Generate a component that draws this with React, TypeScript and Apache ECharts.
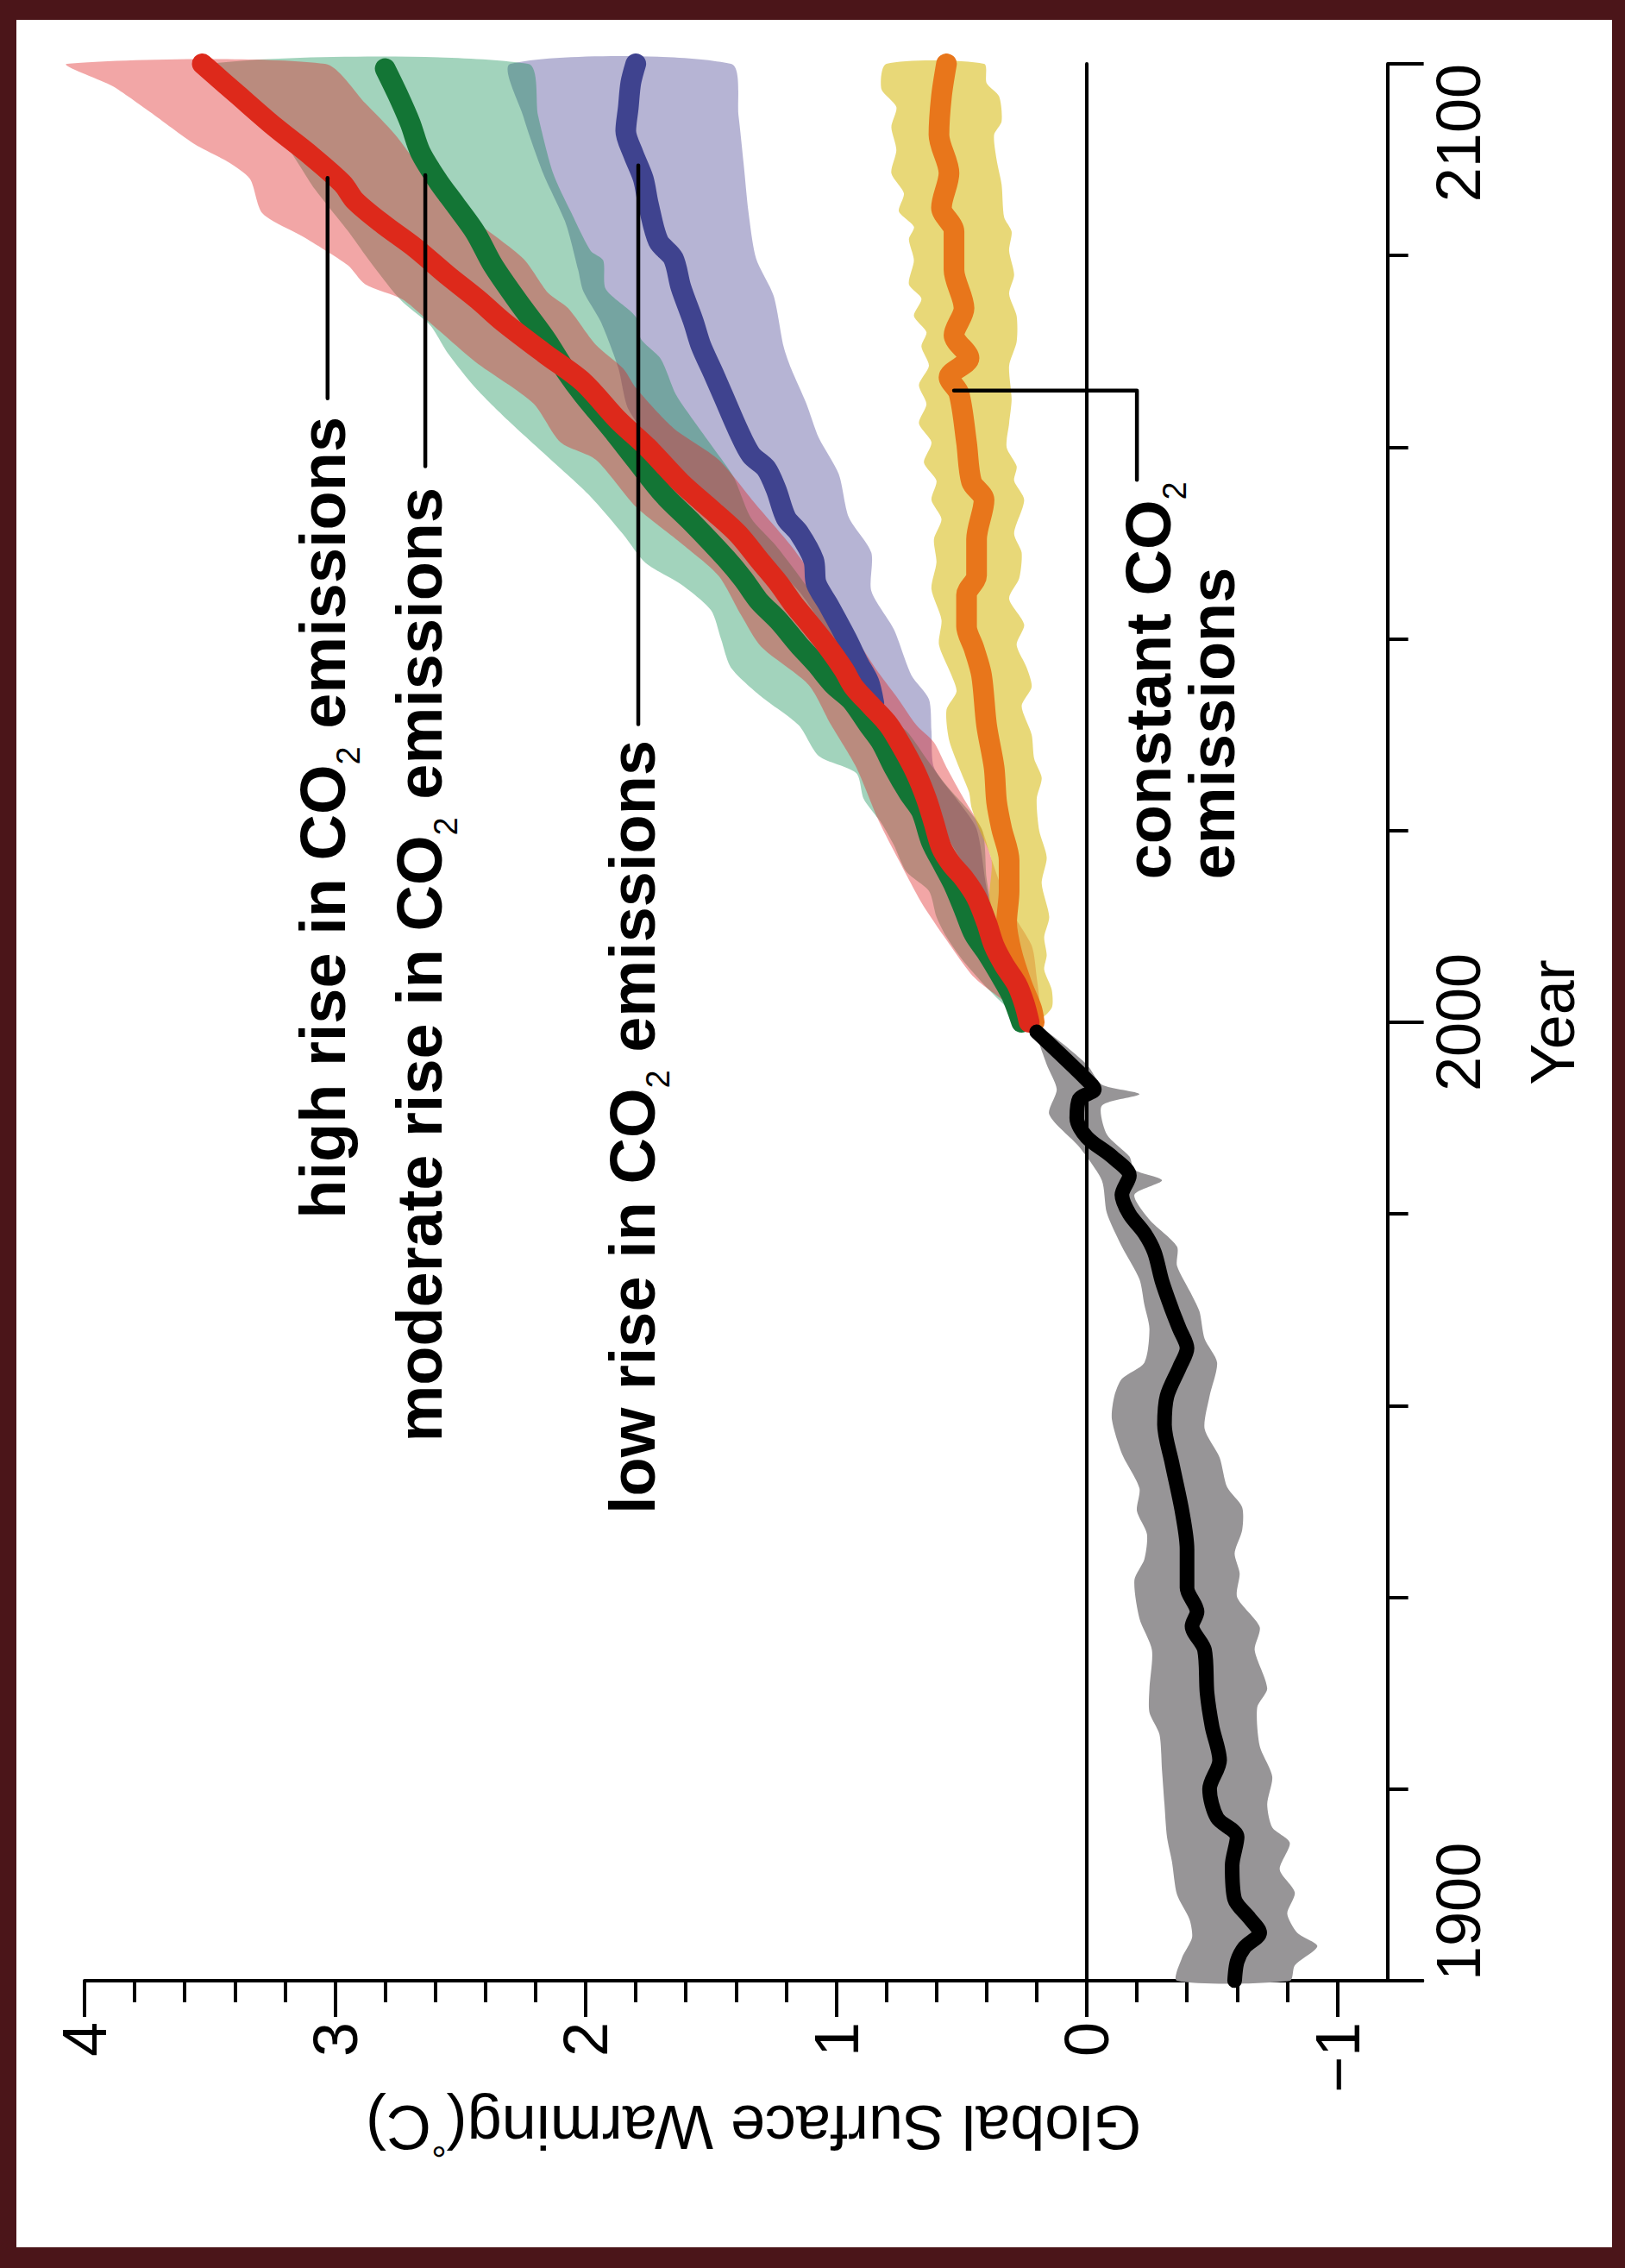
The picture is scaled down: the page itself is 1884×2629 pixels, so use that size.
import React, { useEffect, useRef } from 'react';
import * as echarts from 'echarts';

type Pt = [number, number]; // [year, warming in °C]

const FONT = "'Liberation Sans', Arial, Helvetica, sans-serif";

// ---------- historical (1900-2000) ----------
const HIST_LINE: Pt[] = [
  [1900, -0.59], [1902, -0.6], [1903.5, -0.63], [1905, -0.69], [1906.5, -0.65], [1908.5, -0.59],
  [1912, -0.58], [1915, -0.6], [1917, -0.52], [1920, -0.49], [1923, -0.53], [1926.5, -0.5],
  [1930, -0.48], [1934.5, -0.47], [1937, -0.42], [1938.5, -0.44], [1941, -0.4], [1945, -0.4],
  [1949, -0.38], [1954, -0.34], [1958, -0.31], [1961, -0.32], [1964, -0.37], [1966, -0.4],
  [1968, -0.37], [1970, -0.34], [1973, -0.3], [1976, -0.27], [1978, -0.23], [1980, -0.17],
  [1982, -0.14], [1984, -0.17], [1986, -0.1], [1988, 0.0], [1990, 0.04], [1992, 0.03],
  [1993, -0.03], [1994, 0.0], [1999, 0.2],
];
const HIST_BAND_UPPER: Pt[] = [
  [1900, -0.36], [1902.4, -0.38], [1904.5, -0.42], [1906.4, -0.41], [1909, -0.36], [1912.4, -0.34],
  [1915, -0.32], [1918.4, -0.31], [1922, -0.3], [1925.7, -0.29], [1928, -0.25], [1930.5, -0.25],
  [1934.5, -0.26], [1937.8, -0.21], [1941.8, -0.19], [1944, -0.23], [1946.6, -0.24], [1949, -0.2],
  [1951.4, -0.21], [1955, -0.14], [1958.6, -0.1], [1961, -0.11], [1962.8, -0.14], [1964.5, -0.23],
  [1968, -0.25], [1970.5, -0.23], [1973.2, -0.21], [1976.6, -0.14], [1980.1, -0.08], [1983.5, -0.06],
  [1987, 0.03], [1990.4, 0.15], [1993, 0.12], [1995.6, 0.16], [1999, 0.2],
];
const HIST_BAND_LOWER: Pt[] = [
  [1900, -0.81], [1901.6, -0.83], [1903.6, -0.92], [1905, -0.84], [1907, -0.8], [1909.2, -0.83],
  [1911.6, -0.77], [1914.4, -0.81], [1916, -0.74], [1918.4, -0.72], [1921.3, -0.74], [1924.5, -0.69],
  [1928.5, -0.68], [1930.5, -0.72], [1934.5, -0.67], [1936.9, -0.69], [1940, -0.6], [1942.5, -0.61],
  [1944.6, -0.59], [1947, -0.62], [1949.4, -0.62], [1951.5, -0.56], [1954.6, -0.53], [1957.6, -0.47],
  [1961, -0.49], [1964.5, -0.52], [1967, -0.47], [1969.8, -0.45], [1971.5, -0.42], [1974.6, -0.36],
  [1976.6, -0.36], [1979.4, -0.25], [1982, -0.19], [1983.5, -0.3], [1984.6, -0.19], [1986, -0.17],
  [1988.3, -0.08], [1991.3, -0.06], [1992.5, -0.21], [1993.5, -0.06], [1995.6, 0.0], [1999, 0.16],
];

// ---------- high rise in CO2 emissions (red) ----------
const HIGH_LINE: Pt[] = [
  [2000, 0.23], [2002, 0.25], [2004, 0.28], [2006, 0.33], [2008, 0.37], [2010.4, 0.4], [2013, 0.44],
  [2015, 0.49], [2016.5, 0.54], [2018.2, 0.58], [2020.8, 0.61], [2023.3, 0.64], [2025.9, 0.68],
  [2028.4, 0.73], [2031, 0.79], [2033, 0.86], [2035, 0.93], [2036.8, 0.97], [2039.4, 1.04],
  [2041.7, 1.11], [2043.6, 1.17], [2045.8, 1.23], [2048, 1.3], [2050.9, 1.39], [2053.3, 1.49],
  [2056.3, 1.62], [2059.9, 1.75], [2062.8, 1.87], [2066.8, 2.01], [2069.7, 2.16], [2073.1, 2.33],
  [2075.4, 2.43], [2077.9, 2.55], [2080.8, 2.68], [2083.3, 2.81], [2085.7, 2.92], [2087.5, 2.97],
  [2090.5, 3.1], [2093.4, 3.24], [2096.8, 3.39], [2100, 3.53],
];
const HIGH_BAND_UPPER: Pt[] = [
  [2000, 0.24], [2001.8, 0.31], [2004.7, 0.45], [2008.6, 0.56], [2012.5, 0.66], [2016.9, 0.75],
  [2021, 0.83], [2026.6, 0.92], [2031, 1.02], [2035.2, 1.11], [2039.2, 1.3], [2042.5, 1.38],
  [2046.6, 1.47], [2050, 1.62], [2053.8, 1.8], [2058.7, 1.96], [2060.5, 2.1], [2064.6, 2.21],
  [2068.9, 2.44], [2072.5, 2.6], [2075.4, 2.73], [2077, 2.88], [2079, 2.95], [2082, 3.13],
  [2084.4, 3.29], [2088, 3.34], [2089.8, 3.43], [2091.6, 3.56], [2095, 3.74], [2097.7, 3.89],
  [2100, 4.07],
];
const HIGH_BAND_LOWER: Pt[] = [
  [2000, 0.21], [2002, 0.19], [2004.7, 0.2], [2008, 0.22], [2012, 0.31], [2017, 0.38], [2020.2, 0.42],
  [2023.3, 0.49], [2026.6, 0.56], [2029.2, 0.61], [2031, 0.68], [2034, 0.76], [2036.8, 0.84],
  [2040, 0.92], [2045, 1.05], [2049.7, 1.18], [2054, 1.32], [2058.7, 1.47], [2062, 1.65],
  [2066.2, 1.8], [2068.2, 1.85], [2070.7, 1.96], [2074.5, 2.07], [2076.1, 2.15], [2079.7, 2.25],
  [2084.2, 2.47], [2087.8, 2.62], [2092.6, 2.76], [2095.9, 2.88], [2100, 3.04],
];

// ---------- moderate rise in CO2 emissions (green) ----------
const MOD_LINE: Pt[] = [
  [2000, 0.26], [2002.8, 0.3], [2004.7, 0.34], [2007.3, 0.4], [2009.2, 0.45], [2011.8, 0.49],
  [2014.3, 0.53], [2016.3, 0.57], [2018.8, 0.62], [2022, 0.66], [2023.9, 0.71], [2026.6, 0.77],
  [2029.2, 0.82], [2031, 0.87], [2033.6, 0.94], [2035.2, 1.01], [2037.4, 1.08], [2039.4, 1.15],
  [2041.9, 1.23], [2044, 1.31], [2046.2, 1.37], [2048.4, 1.44], [2052, 1.57], [2055.1, 1.69],
  [2058.7, 1.8], [2061.7, 1.89], [2065.5, 2.01], [2068, 2.08], [2071.3, 2.16], [2075.2, 2.27],
  [2079, 2.37], [2082.4, 2.44], [2085.3, 2.52], [2087.8, 2.59], [2090.8, 2.66], [2093.8, 2.7],
  [2096.8, 2.75], [2099.5, 2.8],
];
const MOD_BAND_UPPER: Pt[] = [
  [2000, 0.26], [2000.8, 0.29], [2003.1, 0.38], [2006.3, 0.49], [2008.9, 0.56], [2011, 0.6],
  [2013.7, 0.63], [2015.7, 0.72], [2018.5, 0.77], [2020.8, 0.82], [2023.3, 0.89], [2026, 0.92],
  [2027.8, 1.07], [2031, 1.15], [2034, 1.3], [2037, 1.42], [2040, 1.46], [2043, 1.5], [2045.7, 1.62],
  [2047.9, 1.76], [2050.9, 1.85], [2055.1, 1.99], [2059.2, 2.16], [2062.8, 2.31], [2066.2, 2.44],
  [2069.8, 2.55], [2072.7, 2.62], [2074.9, 2.72], [2076.3, 2.77], [2079.7, 2.87], [2082.6, 2.95],
  [2086.9, 3.08], [2092, 3.21], [2096, 3.38], [2100, 3.5],
];
const MOD_BAND_LOWER: Pt[] = [
  [2000, 0.24], [2004, 0.3], [2008, 0.35], [2012, 0.38], [2015, 0.4], [2020.2, 0.42], [2024.7, 0.56],
  [2027.5, 0.64], [2030.4, 0.72], [2032.9, 0.84], [2035, 0.88], [2040, 0.98], [2045.2, 1.11],
  [2049.7, 1.24], [2052.6, 1.34], [2056.9, 1.41], [2059.9, 1.49], [2062.8, 1.57], [2065.5, 1.64],
  [2069.2, 1.7], [2071.3, 1.78], [2073.6, 1.8], [2076.5, 1.92], [2079.5, 1.93], [2080.5, 1.98],
  [2084.6, 2.06], [2088.6, 2.13], [2094.6, 2.19], [2100, 2.23],
];

// ---------- low rise in CO2 emissions (blue / purple) ----------
const LOW_LINE: Pt[] = [
  [2033.3, 0.85], [2035.5, 0.87], [2037.4, 0.91], [2040.1, 0.96], [2043.5, 1.03], [2045.8, 1.08],
  [2048.2, 1.09], [2051.1, 1.15], [2052.6, 1.2], [2055.6, 1.24], [2057.8, 1.28], [2059.2, 1.34],
  [2061.7, 1.39], [2065.3, 1.45], [2067.7, 1.49], [2070.6, 1.54], [2073.1, 1.57], [2076.7, 1.62],
  [2079.7, 1.65], [2081.5, 1.71], [2085.4, 1.75], [2088, 1.77], [2090.6, 1.81], [2093, 1.84],
  [2095.4, 1.83], [2098, 1.82], [2100, 1.8],
];
const LOW_BAND_UPPER: Pt[] = [
  [2000, 0.22], [2005, 0.29], [2010, 0.38], [2015, 0.46], [2020, 0.57], [2025, 0.65], [2030, 0.76],
  [2035, 0.9], [2040, 1.02], [2045, 1.15], [2050, 1.34], [2055, 1.56], [2060, 1.72], [2064, 1.83],
  [2068.3, 1.87], [2073.1, 1.94], [2076.3, 2.01], [2078.5, 2.03], [2083.4, 2.08], [2088.6, 2.17],
  [2094.6, 2.25], [2100, 2.3],
];
const LOW_BAND_LOWER: Pt[] = [
  [2000, 0.21], [2005, 0.28], [2010, 0.36], [2014, 0.4], [2020.2, 0.44], [2023.3, 0.52], [2026.6, 0.61],
  [2030.4, 0.62], [2033.7, 0.63], [2036.2, 0.7], [2041, 0.77], [2045, 0.86], [2049, 0.86],
  [2052.7, 0.95], [2057.2, 0.99], [2061, 1.07], [2064.6, 1.12], [2068.2, 1.18], [2070.5, 1.21],
  [2075.8, 1.25], [2079.7, 1.32], [2084.5, 1.35], [2089.7, 1.37], [2094.6, 1.39], [2100, 1.42],
];

// ---------- constant CO2 emissions (orange / yellow) ----------
const CONST_LINE: Pt[] = [
  [2000, 0.21], [2001.4, 0.22], [2004, 0.26], [2007.3, 0.3], [2010.4, 0.32], [2013.7, 0.31],
  [2016.9, 0.31], [2020.2, 0.34], [2023, 0.36], [2026.6, 0.37], [2031, 0.4], [2036.2, 0.42],
  [2039, 0.45], [2041.3, 0.48], [2044.6, 0.48], [2046.6, 0.44], [2050.4, 0.44], [2054.5, 0.41],
  [2056.4, 0.46], [2060.5, 0.48], [2065.6, 0.51], [2067.3, 0.55], [2069.3, 0.47], [2071.7, 0.53],
  [2074.5, 0.49], [2078.5, 0.53], [2082.5, 0.53], [2085, 0.58], [2088.6, 0.55], [2092.6, 0.59],
  [2096.6, 0.58], [2100, 0.56],
];
const CONST_BAND_UPPER: Pt[] = [
  [2000, 0.23], [2003, 0.29], [2006, 0.34], [2010, 0.38], [2013, 0.39], [2016.9, 0.38], [2020.2, 0.43],
  [2022.4, 0.46], [2024, 0.47], [2026.6, 0.51], [2029.5, 0.55], [2032.6, 0.56], [2034.5, 0.52],
  [2036.2, 0.54], [2039.4, 0.59], [2042, 0.58], [2045.2, 0.62], [2048, 0.6], [2050.4, 0.61],
  [2052.5, 0.58], [2054.5, 0.62], [2056.5, 0.6], [2058.4, 0.65], [2060.5, 0.62], [2062.5, 0.67],
  [2064.5, 0.64], [2066.5, 0.67], [2068.5, 0.63], [2070.5, 0.66], [2072, 0.64], [2073.7, 0.69],
  [2075.5, 0.66], [2077, 0.71], [2079.5, 0.69], [2081.7, 0.71], [2083, 0.69], [2084.6, 0.75],
  [2086.5, 0.73], [2088.6, 0.78], [2091, 0.76], [2093.4, 0.78], [2095.5, 0.76], [2097.4, 0.82],
  [2100, 0.8],
];
const CONST_BAND_LOWER: Pt[] = [
  [2000, 0.2], [2001.5, 0.14], [2003.4, 0.14], [2005.5, 0.17], [2007, 0.16], [2008.9, 0.17],
  [2011, 0.15], [2014.5, 0.18], [2017.2, 0.16], [2020, 0.19], [2023.3, 0.2], [2025.5, 0.18],
  [2027.5, 0.21], [2030, 0.22], [2033, 0.26], [2035, 0.22], [2037, 0.24], [2039.4, 0.28],
  [2041.5, 0.25], [2044.2, 0.31], [2046.3, 0.27], [2049, 0.26], [2051, 0.29], [2054.5, 0.25],
  [2056.5, 0.29], [2058, 0.28], [2060, 0.32], [2062.5, 0.31], [2065, 0.3], [2068.5, 0.31],
  [2071, 0.28], [2073.7, 0.28], [2076, 0.31], [2078, 0.29], [2080.5, 0.31], [2082.5, 0.3],
  [2084, 0.33], [2087.4, 0.34], [2090, 0.36], [2092.6, 0.37], [2094, 0.34], [2096.6, 0.35],
  [2098, 0.4], [2100, 0.41],
];

// ---------- axes ----------
const WARMING_MAJOR_TICKS = [4, 3, 2, 1, 0, -1];
const WARMING_MINOR_TICKS = [
  3.8, 3.6, 3.4, 3.2, 2.8, 2.6, 2.4, 2.2, 1.8, 1.6, 1.4, 1.2, 0.8, 0.6, 0.4, 0.2, -0.2, -0.4, -0.6, -0.8,
];
const WARMING_MIN = -1.34;
const WARMING_MAX = 4;
const YEAR_AXIS_AT = -1.2;
const YEAR_MIN = 1900;
const YEAR_MAX = 2100;
const YEAR_STEP = 100;
const YEAR_MINOR_SPLIT = 5;

// ---------- annotations (leader lines + labels, in data units) ----------
const ZERO_LINE: Pt[] = [[1900, 0], [2100, 0]];
const HIGH_LEADER: Pt[] = [[2065.1, 3.03], [2088.1, 3.03]];
const MOD_LEADER: Pt[] = [[2058.0, 2.64], [2088.4, 2.64]];
const LOW_LEADER: Pt[] = [[2031.1, 1.79], [2089.4, 1.79]];
const CONST_LEADER: Pt[] = [[2065.9, 0.53], [2065.9, -0.2], [2056.6, -0.2]];

const LABELS = [
  { text: '{b|high rise in CO}{s|2}{b| emissions}', year: 1979.5, w: 3.177 },
  { text: '{b|moderate rise in CO}{s|2}{b| emissions}', year: 1956.2, w: 2.79 },
  { text: '{b|low rise in CO}{s|2}{b| emissions}', year: 1948.7, w: 1.94 },
  { text: '{b|constant CO}{s|2}\n{b|emissions}', year: 2014.9, w: -0.12 },
];

const COLORS = {
  red: '#dd291b',
  green: '#137535',
  blue: '#3f438f',
  orange: '#e8761b',
  black: '#000000',
  redBand: 'rgba(222,32,32,0.4)',
  greenBand: 'rgba(10,140,80,0.38)',
  purpleBand: 'rgba(72,68,148,0.4)',
  yellowBand: 'rgba(217,190,30,0.6)',
  grayBand: '#979597',
};

const toXY = (pts: Pt[]) => pts.map(([yr, w]) => [w, yr]);

function bandSeries(upper: Pt[], lower: Pt[], fill: string, z: number) {
  const ring = [...upper, ...lower.slice().reverse()];
  return {
    type: 'custom',
    silent: true,
    clip: false,
    z,
    data: [[upper[0][1], upper[0][0]]],
    renderItem: (_p: any, api: any) => ({
      type: 'polygon',
      shape: { points: ring.map(([yr, w]) => api.coord([w, yr])), smooth: 0.25 },
      style: { fill },
    }),
  };
}

function lineSeries(pts: Pt[], color: string, width: number, z: number, smooth: number | boolean = 0.3) {
  return {
    type: 'line',
    data: toXY(pts),
    symbol: 'none',
    smooth,
    silent: true,
    z,
    lineStyle: { color, width, cap: 'round', join: 'round' },
  };
}

export default function App() {
  const ref = useRef<HTMLDivElement>(null);

  useEffect(() => {
    if (!ref.current) return;
    const chart = echarts.init(ref.current, null, { renderer: 'svg' });
    const axisLineStyle = { color: '#000', width: 4 };
    const option: any = {
      animation: false,
      backgroundColor: 'transparent',
      textStyle: { fontFamily: FONT },
      grid: { left: 98, right: 234.7, top: 74, bottom: 333, containLabel: false, outerBoundsMode: 'none' },
      xAxis: [
        {
          type: 'value', inverse: true, min: WARMING_MIN, max: WARMING_MAX, position: 'bottom',
          axisLine: { show: true, onZero: false, lineStyle: axisLineStyle },
          axisTick: { show: true, customValues: WARMING_MINOR_TICKS, length: 25, lineStyle: axisLineStyle },
          axisLabel: { show: false },
          splitLine: { show: false },
        },
        {
          type: 'value', inverse: true, min: WARMING_MIN, max: WARMING_MAX, position: 'bottom',
          axisLine: { show: false, onZero: false },
          axisTick: { show: true, customValues: WARMING_MAJOR_TICKS, length: 42, lineStyle: axisLineStyle },
          axisLabel: {
            show: true, customValues: WARMING_MAJOR_TICKS, rotate: 90, margin: 48,
            fontSize: 72, color: '#000', fontFamily: FONT,
            formatter: (v: number) => (v < 0 ? '\u2212' + Math.abs(v) : String(v)),
          },
          splitLine: { show: false },
          name: '{n|Global Surface Warming(}{d|°}{n|C)}',
          nameLocation: 'middle',
          nameRotate: 180,
          nameGap: 130,
          nameMoveOverlap: false,
          nameTextStyle: {
            fontSize: 72, color: '#000', fontFamily: FONT,
            rich: {
              n: { fontSize: 72, color: '#000', fontFamily: FONT, lineHeight: 80 },
              d: { fontSize: 44, color: '#000', fontFamily: FONT, lineHeight: 80, verticalAlign: 'top' },
            },
          },
        },
      ],
      yAxis: [
        {
          type: 'value', min: YEAR_MIN, max: YEAR_MAX, interval: YEAR_STEP, position: 'right',
          offset: -((YEAR_AXIS_AT - WARMING_MIN) / (WARMING_MAX - WARMING_MIN)) * (1884 - 98 - 234.7),
          axisLine: { show: true, onZero: false, lineStyle: axisLineStyle },
          axisTick: { show: true, length: 42, lineStyle: axisLineStyle },
          minorTick: { show: true, splitNumber: YEAR_MINOR_SPLIT, length: 24, lineStyle: axisLineStyle },
          minorSplitLine: { show: false },
          splitLine: { show: false },
          axisLabel: {
            show: true, rotate: 90, margin: 46, fontSize: 72, color: '#000', fontFamily: FONT,
            showMinLabel: true, showMaxLabel: true, alignMinLabel: 'left', alignMaxLabel: 'right',
            formatter: (v: number) => String(Math.round(v)),
          },
          name: 'Year',
          nameLocation: 'middle',
          nameRotate: 90,
          nameGap: 155,
          nameMoveOverlap: false,
          nameTextStyle: { fontSize: 72, color: '#000', fontFamily: FONT },
        },
      ],
      series: [
        bandSeries(LOW_BAND_UPPER, LOW_BAND_LOWER, COLORS.purpleBand, 2),
        bandSeries(MOD_BAND_UPPER, MOD_BAND_LOWER, COLORS.greenBand, 2),
        bandSeries(HIGH_BAND_UPPER, HIGH_BAND_LOWER, COLORS.redBand, 2),
        bandSeries(CONST_BAND_UPPER, CONST_BAND_LOWER, COLORS.yellowBand, 2),
        bandSeries(HIST_BAND_UPPER, HIST_BAND_LOWER, COLORS.grayBand, 2),
        lineSeries(ZERO_LINE, '#000', 4, 3, false),
        lineSeries(LOW_LINE, COLORS.blue, 24, 4),
        lineSeries(CONST_LINE, COLORS.orange, 24, 4),
        lineSeries(MOD_LINE, COLORS.green, 24, 4),
        lineSeries(HIGH_LINE, COLORS.red, 24, 4),
        lineSeries(HIST_LINE, COLORS.black, 17, 4),
        lineSeries(HIGH_LEADER, '#000', 4.5, 5, false),
        lineSeries(MOD_LEADER, '#000', 4.5, 5, false),
        lineSeries(LOW_LEADER, '#000', 4.5, 5, false),
        lineSeries(CONST_LEADER, '#000', 4.5, 5, false),
      ],
    };
    chart.setOption(option);

    const rich = {
      b: { fontSize: 74, fontWeight: 'bold', fontFamily: FONT, fill: '#000', lineHeight: 74, verticalAlign: 'top' },
      s: { fontSize: 38, fontWeight: 'normal', fontFamily: FONT, fill: '#000', lineHeight: 38, padding: [48, 0, 0, 0], verticalAlign: 'top' },
    };
    const graphics = LABELS.map((l) => {
      const p = chart.convertToPixel({ xAxisIndex: 0, yAxisIndex: 0 }, [l.w, l.year]) as number[];
      return {
        type: 'text',
        x: p[0],
        y: p[1],
        rotation: Math.PI / 2,
        z: 100,
        silent: true,
        style: {
          text: l.text,
          rich,
          align: 'left',
          verticalAlign: 'top',
          fontFamily: FONT,
          fontSize: 74,
          fontWeight: 'bold',
          fill: '#000',
        },
      };
    });
    chart.setOption({ graphic: graphics });

    return () => chart.dispose();
  }, []);

  return (
    <div style={{ position: 'absolute', left: 0, top: 0, width: 1884, height: 2629, background: '#4b1519' }}>
      <div
        style={{
          position: 'absolute', left: 19, top: 23, width: 1884 - 19 - 15, height: 2629 - 23 - 24,
          background: '#ffffff',
        }}
      />
      <div ref={ref} style={{ position: 'absolute', left: 0, top: 0, width: 1884, height: 2629 }} />
    </div>
  );
}
